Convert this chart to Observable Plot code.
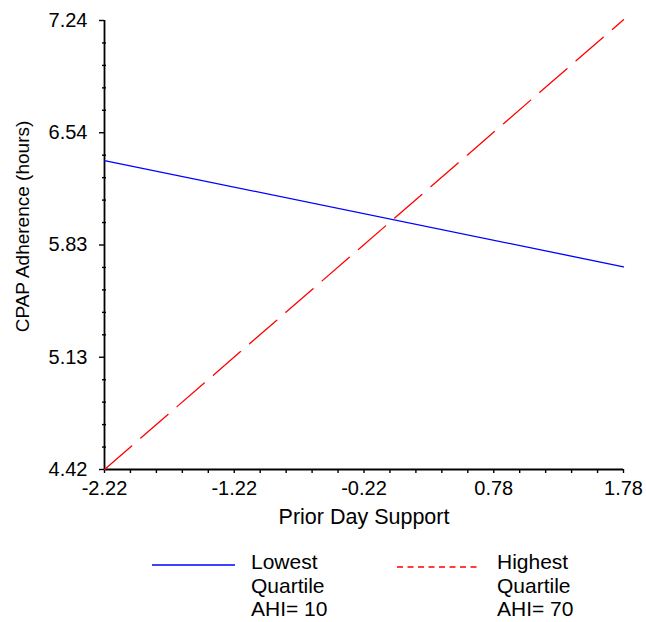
<!DOCTYPE html>
<html><head><meta charset="utf-8">
<script src="https://cdn.jsdelivr.net/npm/d3@7"></script>
<script src="https://cdn.jsdelivr.net/npm/@observablehq/plot@0.6"></script>
<style>
body{margin:0;background:#fff;font-family:"Liberation Sans",Arial,Helvetica,sans-serif;}
#chart{position:relative;width:646px;}
#legend{position:relative;width:646px;height:82px;}
.lg-text{position:absolute;font-size:21px;line-height:23.5px;color:#000;white-space:nowrap;}
.lg-line{position:absolute;overflow:visible;}
</style></head><body><div id="chart"></div><div id="legend"></div>
<script>
// Data
const priorDaySupport = [-2.22, 1.78];
const lowestQuartile = [6.36, 5.693];
const highestQuartile = [4.42, 7.245];
const seriesColors = ["#0000ff", "#ff0000"];
const legendLabels = [["Lowest", "Quartile", "AHI= 10"], ["Highest", "Quartile", "AHI= 70"]];
const xTicks = [-2.22, -1.22, -0.22, 0.78, 1.78];
const xTickLabels = ["-2.22", "-1.22", "-0.22", "0.78", "1.78"];
const yTicks = [4.42, 5.125, 5.83, 6.535, 7.24];
const yTickLabels = ["4.42", "5.13", "5.83", "6.54", "7.24"];
const xTitle = "Prior Day Support";
const yTitle = "CPAP Adherence (hours)";

// minor tick positions (5 subdivisions between majors)
const subdiv = (ticks, n) => ticks.slice(0, -1).flatMap((t, i) => d3.range(1, n).map(k => t + (ticks[i + 1] - t) * k / n));
const xMinor = subdiv(xTicks, 5);
const yMinor = subdiv(yTicks, 5);

const low = priorDaySupport.map((x, i) => ({x, y: lowestQuartile[i]}));
const high = priorDaySupport.map((x, i) => ({x, y: highestQuartile[i]}));

const font = '"Liberation Sans", Arial, Helvetica, sans-serif';
const chart = Plot.plot({
  width: 646, height: 540,
  marginLeft: 104, marginRight: 23, marginTop: 20, marginBottom: 71,
  x: {domain: [xTicks[0], xTicks[xTicks.length - 1]]},
  y: {domain: [yTicks[0], yTicks[yTicks.length - 1]]},
  style: {fontFamily: font, fontSize: "20px", color: "#000", background: "#fff", overflow: "visible"},
  marks: [
    Plot.axisX(xMinor, {tickSize: 4, tickFormat: () => "", label: null, strokeWidth: 1.4}),
    Plot.axisX(xTicks, {tickSize: 4, tickPadding: 7, tickFormat: d => xTickLabels[xTicks.indexOf(d)], label: null, fontSize: 20, strokeWidth: 1.4}),
    Plot.axisY(yMinor, {tickSize: 4, dx: 2, tickFormat: () => "", label: null, strokeWidth: 1.4}),
    Plot.axisY(yTicks, {tickSize: 5, tickPadding: 12, tickFormat: d => yTickLabels[yTicks.indexOf(d)], label: null, fontSize: 20, strokeWidth: 1.4}),
    Plot.ruleX([xTicks[0]], {strokeWidth: 1.8}),
    Plot.ruleY([yTicks[0]], {strokeWidth: 1.8}),
    Plot.line(low, {x: "x", y: "y", stroke: seriesColors[0], strokeWidth: 1.3}),
    Plot.line(high, {x: "x", y: "y", stroke: seriesColors[1], strokeWidth: 1.3, strokeDasharray: "36,12"}),
    Plot.text([xTitle], {frameAnchor: "bottom", lineAnchor: "bottom", dy: 54, fontSize: 21.5}),
    Plot.text([yTitle], {frameAnchor: "left", textAnchor: "middle", rotate: -90, dx: -82, dy: -18.5, fontSize: 19})
  ]
});
document.getElementById("chart").appendChild(chart);

// Legend
const legend = d3.select("#legend");
const lgPos = [
  {lineX: 152, lineW: 83, lineY: 25, textX: 251, dash: null},
  {lineX: 397, lineW: 82, lineY: 27, textX: 497, dash: "6,4.5"}
];
legendLabels.forEach((lines, i) => {
  const p = lgPos[i];
  const svg = legend.append("svg").attr("class", "lg-line")
    .attr("width", p.lineW).attr("height", 4)
    .style("left", p.lineX + "px").style("top", (p.lineY - 2) + "px");
  svg.append("line").attr("x1", 0).attr("x2", p.lineW).attr("y1", 2).attr("y2", 2)
    .attr("stroke", seriesColors[i]).attr("stroke-width", 1.3)
    .attr("stroke-dasharray", p.dash);
  legend.append("div").attr("class", "lg-text")
    .style("left", p.textX + "px").style("top", "10px")
    .html(lines.join("<br>"));
});
</script></body></html>
